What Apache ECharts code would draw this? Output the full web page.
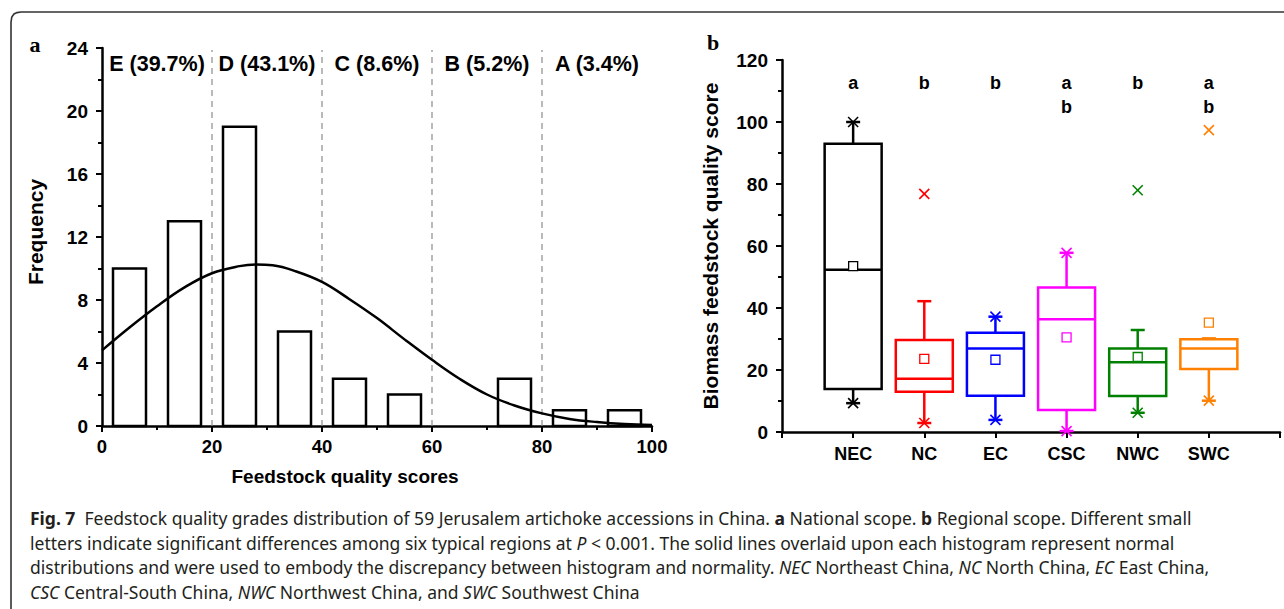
<!DOCTYPE html>
<html><head><meta charset="utf-8">
<script src="https://cdn.jsdelivr.net/npm/echarts@6/dist/echarts.min.js"></script>
<style>html,body{margin:0;padding:0;background:#fff}#c{width:1284px;height:609px}</style>
</head><body><div id="c"></div>
<script>
// ---------- Panel a: histogram ----------
const binStarts = [0, 10, 20, 30, 40, 50, 60, 70, 80, 90];
const frequencies = [10, 13, 19, 6, 3, 2, 0, 3, 1, 1];
const gradeBounds = [20, 40, 60, 80];
const gradeCenters = [10, 30, 50, 70, 90];
const gradeLabels = ['E (39.7%)', 'D (43.1%)', 'C (8.6%)', 'B (5.2%)', 'A (3.4%)'];
const freqTicks = [0, 4, 8, 12, 16, 20, 24];
const scoreTicks = [0, 20, 40, 60, 80, 100];
// normal curve
const curveX = [0, 5, 10, 15, 20, 25, 28, 31, 35, 40, 45, 50, 55, 60, 65, 70, 75, 80, 85, 90, 95, 100];
const curveY = [4.8, 6.25, 7.6, 8.8, 9.7, 10.15, 10.25, 10.2, 9.85, 9.15, 8.05, 6.85, 5.5, 4.2, 3.0, 2.0, 1.3, 0.8, 0.45, 0.25, 0.12, 0.06];

// ---------- Panel b: box plots ----------
const regions = ['NEC', 'NC', 'EC', 'CSC', 'NWC', 'SWC'];
const q1 = [13.9, 13.0, 11.7, 7.1, 11.6, 20.3];
const median = [52.3, 17.2, 26.9, 36.4, 22.5, 26.9];
const q3 = [93.0, 29.7, 32.0, 46.6, 26.9, 29.9];
const means = [53.5, 23.6, 23.3, 30.5, 24.2, 35.3];
const whiskerLow = [9.3, 2.9, 3.9, 0.3, 6.2, 10.1];
const whiskerHigh = [100, 42.2, 37.2, 57.8, 32.9, 30.2];
const minVals = [9.3, 2.9, 3.9, 0.3, 6.2, 10.1];
const maxVals = [100, 76.8, 37.2, 57.8, 78.0, 97.4];
const sigLetters = [['a'], ['b'], ['b'], ['a', 'b'], ['b'], ['a', 'b']];
const scoreTicksB = [0, 20, 40, 60, 80, 100, 120];

const regionColors = ['#000000', '#ff0000', '#0000ff', '#ff00ff', '#008000', '#ff8000'];
const FONT = 'Liberation Sans, Arial, sans-serif';
const BOLD = { color: '#000', fontWeight: 'bold', fontFamily: FONT };

const chart = echarts.init(document.getElementById('c'), null, { renderer: 'svg' });

function axisCommon(extra) {
  return Object.assign({
    axisLine: { show: true, onZero: false, lineStyle: { color: '#000', width: 2.5 } },
    axisTick: { show: true, length: 6, lineStyle: { color: '#000', width: 2 } },
    minorTick: { show: true, splitNumber: 2, length: 4, lineStyle: { color: '#000', width: 2 } },
    splitLine: { show: false },
    minorSplitLine: { show: false }
  }, extra);
}

const histData = binStarts.map((s, i) => [s, frequencies[i]]);
const boxData = regions.map((r, i) => [i + 1, q1[i], median[i], q3[i], means[i], whiskerLow[i], whiskerHigh[i], minVals[i], maxVals[i]]);

function renderBar(params, api) {
  const s = api.value(0), f = api.value(1);
  if (!f) return null;
  const a = api.coord([s + 2, f]);
  const b = api.coord([s + 8, 0]);
  return { type: 'rect', shape: { x: a[0], y: a[1], width: b[0] - a[0], height: b[1] - a[1] },
    style: { fill: '#fff', stroke: '#000', lineWidth: 2.5 } };
}

function renderBound(params, api) {
  const v = api.value(0);
  const a = api.coord([v, 0]), b = api.coord([v, 24]);
  return { type: 'line', shape: { x1: a[0], y1: a[1], x2: b[0], y2: b[1] + 2 },
    style: { stroke: '#8c8c8c', lineWidth: 1.2, lineDash: [6, 5] } };
}

function renderGrade(params, api) {
  const p = api.coord([api.value(0), 23.0]);
  return { type: 'text', x: p[0], y: p[1],
    style: { text: gradeLabels[params.dataIndex], fill: '#000', font: 'bold 21.5px ' + FONT, align: 'center', verticalAlign: 'middle' } };
}

function renderBox(params, api) {
  const i = params.dataIndex;
  const x = api.value(0);
  const c = regionColors[i];
  const Y = v => api.coord([x, v])[1];
  const cx = api.coord([x, 0])[0];
  const half = 28.5, cap = 7, mk = 5;
  const yq1 = Y(api.value(1)), ymed = Y(api.value(2)), yq3 = Y(api.value(3));
  const ymean = Y(api.value(4)), ywl = Y(api.value(5)), ywh = Y(api.value(6));
  const ymin = Y(api.value(7)), ymax = Y(api.value(8));
  const st = { stroke: c, lineWidth: 2.5 };
  const ch = [];
  if (ywh < yq3 - 0.5) ch.push({ type: 'line', shape: { x1: cx, y1: yq3, x2: cx, y2: ywh }, style: st });
  ch.push({ type: 'line', shape: { x1: cx - cap, y1: ywh, x2: cx + cap, y2: ywh }, style: st });
  if (ywl > yq1 + 0.5) ch.push({ type: 'line', shape: { x1: cx, y1: yq1, x2: cx, y2: ywl }, style: st });
  ch.push({ type: 'line', shape: { x1: cx - cap, y1: ywl, x2: cx + cap, y2: ywl }, style: st });
  ch.push({ type: 'rect', shape: { x: cx - half, y: yq3, width: half * 2, height: yq1 - yq3 }, style: { fill: 'none', stroke: c, lineWidth: 2.5 } });
  ch.push({ type: 'line', shape: { x1: cx - half, y1: ymed, x2: cx + half, y2: ymed }, style: st });
  ch.push({ type: 'rect', shape: { x: cx - 4.5, y: ymean - 4.5, width: 9, height: 9 }, style: { fill: '#fff', stroke: c, lineWidth: 1.3 } });
  [ymin, ymax].forEach(y => {
    ch.push({ type: 'line', shape: { x1: cx - mk, y1: y - mk, x2: cx + mk, y2: y + mk }, style: { stroke: c, lineWidth: 1.6 } });
    ch.push({ type: 'line', shape: { x1: cx - mk, y1: y + mk, x2: cx + mk, y2: y - mk }, style: { stroke: c, lineWidth: 1.6 } });
  });
  const letterY = [112.6, 104.8];
  sigLetters[i].forEach((t, k) => {
    const p = api.coord([x, letterY[k]]);
    ch.push({ type: 'text', x: p[0], y: p[1], style: { text: t, fill: '#000', font: 'bold 18px ' + FONT, align: 'center', verticalAlign: 'middle' } });
  });
  return { type: 'group', children: ch };
}

const capFont = 'Noto Sans, Open Sans, sans-serif';
const CAP_SIZE = 17.5;
const capRich = {
  n: { fontFamily: capFont, fontSize: CAP_SIZE, color: '#231f20' },
  b: { fontWeight: 'bold', fontFamily: capFont, fontSize: CAP_SIZE, color: '#231f20' },
  i: { fontStyle: 'italic', fontFamily: capFont, fontSize: CAP_SIZE, color: '#231f20' }
};
const captionLines = [
  '{b|Fig. 7}{n|  Feedstock quality grades distribution of 59 Jerusalem artichoke accessions in China. }{b|a}{n| National scope. }{b|b}{n| Regional scope. Different small}',
  '{n|letters indicate significant differences among six typical regions at }{i|P}{n| < 0.001. The solid lines overlaid upon each histogram represent normal}',
  '{n|distributions and were used to embody the discrepancy between histogram and normality. }{i|NEC}{n| Northeast China, }{i|NC}{n| North China, }{i|EC}{n| East China,}',
  '{i|CSC}{n| Central-South China, }{i|NWC}{n| Northwest China, and }{i|SWC}{n| Southwest China}'
];
const captionY = [518, 542.5, 567, 591.5];

const graphics = [
  { type: 'polyline', shape: { points: [[11, 609], [11, 22], [11.8, 17], [14, 14], [17, 12.6], [21, 12], [1290, 12]] }, style: { fill: 'none', stroke: '#333', lineWidth: 1.6 }, silent: true },
  { type: 'text', x: 35, y: 44, style: { text: 'a', font: 'bold 22px Liberation Serif, Times New Roman, serif', fill: '#000', align: 'center', verticalAlign: 'middle' } },
  { type: 'text', x: 713, y: 42, style: { text: 'b', font: 'bold 22px Liberation Serif, Times New Roman, serif', fill: '#000', align: 'center', verticalAlign: 'middle' } },
  { type: 'text', x: 345, y: 476, style: { text: 'Feedstock quality scores', font: 'bold 19px ' + FONT, fill: '#000', align: 'center', verticalAlign: 'middle' } }
];
captionLines.forEach((t, k) => {
  graphics.push({ type: 'text', x: 30, y: captionY[k], style: { text: t, rich: capRich, font: CAP_SIZE + 'px ' + capFont, fill: '#231f20', align: 'left', verticalAlign: 'middle' } });
});

chart.setOption({
  animation: false,
  backgroundColor: '#fff',
  grid: [
    { left: 102, top: 48, width: 550, height: 378 },
    { left: 782, top: 60, width: 498, height: 372 }
  ],
  xAxis: [
    axisCommon({ type: 'value', gridIndex: 0, min: scoreTicks[0], max: scoreTicks[scoreTicks.length - 1], interval: 20,
      axisLabel: Object.assign({ fontSize: 18.5, margin: 11 }, BOLD) }),
    axisCommon({ type: 'value', gridIndex: 1, min: 0, max: regions.length + 1, interval: 1,
      minorTick: { show: false },
      axisLabel: Object.assign({ fontSize: 18, margin: 13, showMinLabel: true, showMaxLabel: true,
        formatter: v => regions[v - 1] || '' }, BOLD) })
  ],
  yAxis: [
    axisCommon({ type: 'value', gridIndex: 0, min: freqTicks[0], max: freqTicks[freqTicks.length - 1], interval: 4,
      name: 'Frequency', nameLocation: 'middle', nameGap: 56,
      nameTextStyle: Object.assign({ fontSize: 21, padding: [0, 0, 0, 10] }, BOLD),
      axisLabel: Object.assign({ fontSize: 19, margin: 14 }, BOLD) }),
    axisCommon({ type: 'value', gridIndex: 1, min: scoreTicksB[0], max: scoreTicksB[scoreTicksB.length - 1], interval: 20,
      name: 'Biomass feedstock quality score', nameLocation: 'middle', nameGap: 61,
      nameTextStyle: Object.assign({ fontSize: 21 }, BOLD),
      axisLabel: Object.assign({ fontSize: 19, margin: 14 }, BOLD) })
  ],
  graphic: graphics,
  series: [
    { type: 'custom', xAxisIndex: 0, yAxisIndex: 0, data: gradeBounds.map(v => [v]), renderItem: renderBound, z: 1, silent: true },
    { type: 'custom', xAxisIndex: 0, yAxisIndex: 0, data: histData, renderItem: renderBar, z: 2 },
    { type: 'line', xAxisIndex: 0, yAxisIndex: 0, data: curveX.map((x, i) => [x, curveY[i]]), smooth: 0.4,
      showSymbol: false, lineStyle: { color: '#000', width: 2.5 }, z: 3 },
    { type: 'custom', xAxisIndex: 0, yAxisIndex: 0, data: gradeCenters.map(v => [v]), renderItem: renderGrade, z: 4 },
    { type: 'custom', xAxisIndex: 1, yAxisIndex: 1, data: boxData, renderItem: renderBox, z: 2 }
  ]
});
</script></body></html>
